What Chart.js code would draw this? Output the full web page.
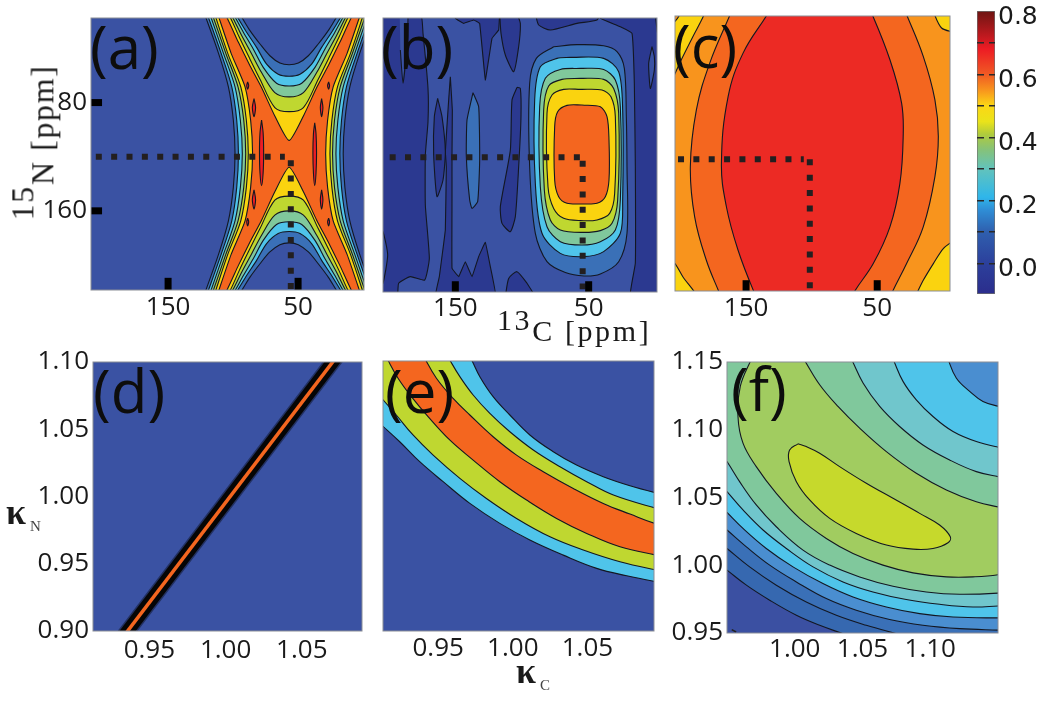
<!DOCTYPE html>
<html>
<head>
<meta charset="utf-8">
<script src="https://cdn.jsdelivr.net/npm/chart.js@4"></script>
<style>
  body { margin: 0; background: #fff; width: 1050px; height: 701px; position: relative; overflow: hidden; }
  canvas { position: absolute; }
  .tag { position: absolute; font: 500 60px/60px "Open Sans", sans-serif; color: #0d0d0d; z-index: 5; }
  .ttl { position: absolute; font-family: "Liberation Serif", serif; color: #1a1a1a; z-index: 5; white-space: nowrap; }
  .sub { font-size: 15px; font-weight: normal; color: #444; margin-left: 4px; position: relative; top: 7px; }
</style>
</head>
<body>
<div class="tag" style="left:90px;top:16px">(a)</div>
<div class="tag" style="left:381px;top:16px">(b)</div>
<div class="tag" style="left:673px;top:15px">(c)</div>
<div class="tag" style="left:93px;top:360px">(d)</div>
<div class="tag" style="left:385px;top:360px">(e)</div>
<div class="tag" style="left:731px;top:358px">(f)</div>
<div class="ttl" style="left:-35px;top:124px;font-size:32px;letter-spacing:1.6px;transform:rotate(-90deg);transform-origin:center"><span style="position:relative;top:-20px">15</span>N [ppm]</div>
<div class="ttl" style="left:497px;top:314px;font-size:30px;letter-spacing:2.6px"><span style="position:relative;top:-11px">13</span>C [ppm]</div>
<div class="ttl" style="left:6px;top:491px;font-size:36px;font-weight:bold">κ<span class="sub">N</span></div>
<div class="ttl" style="left:516px;top:650px;font-size:36px;font-weight:bold">κ<span class="sub">C</span></div>
<script>
// panel (a) contours, [13C ppm, 15N ppm]
const aBlue = [[131,-10],[124,9],[111.2,43.6],[103.6,68.4],[99.8,93.1],[98.5,117.9],[99.8,142.7],[103.6,167.4],[111.2,192.2],[124,226.8],[131,246],
  [99,226.8],[93.4,218.9],[87,209],[79.3,199.1],[71.7,190.4],[64,185],[56.9,183.7],[49.8,185],[42.1,190.4],[34.5,199.1],[26.8,209],[20.4,218.9],[14.8,226.8],
  [-17.2,246],[-10.2,226.8],[2.6,192.2],[10.2,167.4],[14,142.7],[15.3,117.9],[14,93.1],[10.2,68.4],[2.6,43.6],[-10.2,9],[-17.2,-10],
  [14.8,9],[20.4,16.9],[26.8,26.8],[34.5,36.7],[42.1,45.4],[49.8,50.8],[56.9,52.1],[64,50.8],[71.7,45.4],[79.3,36.7],[87,26.8],[93.4,16.9],[99,9]];
const aCyan = [[129,-10],[122,9],[109.2,43.6],[101,68.4],[97.2,93.1],[95.9,117.9],[97.2,142.7],[101,167.4],[109.2,192.2],[122,226.8],[129,246],
  [102.3,226.8],[96.7,218.9],[89.6,207.8],[81.9,196.6],[74.2,184.2],[65.3,176.8],[56.9,175.3],[48.5,176.8],[39.6,184.2],[31.9,196.6],[24.2,207.8],[17.1,218.9],[11.5,226.8],
  [-15.2,246],[-8.2,226.8],[4.6,192.2],[12.8,167.4],[16.6,142.7],[17.9,117.9],[16.6,93.1],[12.8,68.4],[4.6,43.6],[-8.2,9],[-15.2,-10],
  [11.5,9],[17.1,16.9],[24.2,28],[31.9,39.2],[39.6,51.6],[48.5,59],[56.9,60.5],[65.3,59],[74.2,51.6],[81.9,39.2],[89.6,28],[96.7,16.9],[102.3,9]];
const aTeal = [[126.9,-10],[119.9,9],[107.4,43.6],[98.5,68.4],[94.4,93.1],[92.9,117.9],[94.4,142.7],[98.5,167.4],[107.4,192.2],[119.9,226.8],[126.9,246],
  [104.1,226.8],[98.5,218.9],[92.1,207.8],[84.5,195.4],[76.8,181.8],[66.6,170.1],[56.9,168.1],[47.2,170.1],[37,181.8],[29.3,195.4],[21.7,207.8],[15.3,218.9],[9.7,226.8],
  [-13.1,246],[-6.1,226.8],[6.4,192.2],[15.3,167.4],[19.4,142.7],[20.9,117.9],[19.4,93.1],[15.3,68.4],[6.4,43.6],[-6.1,9],[-13.1,-10],
  [9.7,9],[15.3,16.9],[21.7,28],[29.3,40.4],[37,54],[47.2,65.7],[56.9,67.7],[66.6,65.7],[76.8,54],[84.5,40.4],[92.1,28],[98.5,16.9],[104.1,9]];
const aLime = [[125.1,-10],[118.1,9],[105.6,43.6],[96.2,68.4],[91.8,93.1],[90.3,117.9],[91.8,142.7],[96.2,167.4],[105.6,192.2],[118.1,226.8],[125.1,246],
  [106.1,226.8],[100.5,218.9],[93.4,205.3],[85.7,191.7],[78.1,178],[67.9,163.2],[56.9,160],[45.9,163.2],[35.7,178],[28.1,191.7],[20.4,205.3],[13.3,218.9],[7.7,226.8],
  [-11.3,246],[-4.3,226.8],[8.2,192.2],[17.6,167.4],[22,142.7],[23.5,117.9],[22,93.1],[17.6,68.4],[8.2,43.6],[-4.3,9],[-11.3,-10],
  [7.7,9],[13.3,16.9],[20.4,30.5],[28.1,44.1],[35.7,57.8],[45.9,72.6],[56.9,75.8],[67.9,72.6],[78.1,57.8],[85.7,44.1],[93.4,30.5],[100.5,16.9],[106.1,9]];
const aYellow = [[123.1,-10],[116.1,9],[104.1,43.6],[94.1,68.4],[89.8,93.1],[88.3,117.9],[89.8,142.7],[94.1,167.4],[104.1,192.2],[116.1,226.8],[123.1,246],
  [107.9,226.8],[102.3,218.9],[95.2,204],[87,187.9],[79.3,173.1],[67.9,152.1],[56.9,149.1],[45.9,152.1],[34.5,173.1],[26.8,187.9],[18.6,204],[11.5,218.9],[5.9,226.8],
  [-9.3,246],[-2.3,226.8],[9.7,192.2],[19.7,167.4],[24,142.7],[25.5,117.9],[24,93.1],[19.7,68.4],[9.7,43.6],[-2.3,9],[-9.3,-10],
  [5.9,9],[11.5,16.9],[18.6,31.8],[26.8,47.9],[34.5,62.7],[45.9,83.7],[56.9,86.7],[67.9,83.7],[79.3,62.7],[87,47.9],[95.2,31.8],[102.3,16.9],[107.9,9]];
const aOrange = [[120.8,-10],[113.8,9],[101.5,43.6],[90.8,68.4],[86.5,93.1],[85,117.9],[86.5,142.7],[90.8,167.4],[101.5,192.2],[113.8,226.8],[120.8,246],
  [110.5,226.8],[104.9,218.9],[95.9,200.3],[87,183],[78.1,166.9],[67.9,145.9],[56.9,127.8],[45.9,145.9],[35.7,166.9],[26.8,183],[17.9,200.3],[8.9,218.9],[3.3,226.8],
  [-7,246],[0,226.8],[12.3,192.2],[23,167.4],[27.3,142.7],[28.8,117.9],[27.3,93.1],[23,68.4],[12.3,43.6],[0,9],[-7,-10],
  [3.3,9],[8.9,16.9],[17.9,35.5],[26.8,52.8],[35.7,68.9],[45.9,89.9],[56.9,108],[67.9,89.9],[78.1,68.9],[87,52.8],[95.9,35.5],[104.9,16.9],[110.5,9]];
const aRedIslands = [
  [[78.1,92.9],[76.9,102.3],[76.5,117.1],[76.9,132],[78.1,141.4],[79.3,132],[79.7,117.1],[79.3,102.3],[78.1,92.9]],
  [[37.2,94.9],[36.2,103],[35.8,117.1],[36.2,132],[37.2,141.4],[38.2,132],[38.6,117.1],[38.2,103],[37.2,94.9]],
  [[83.9,77],[82.7,83.7],[83.9,90.4],[85.2,83.7],[83.9,77]],
  [[83.9,144.4],[82.7,151.8],[83.9,158.7],[85.2,151.8],[83.9,144.4]],
  [[31.9,77],[30.9,83.7],[31.9,90.4],[32.9,83.7],[31.9,77]],
  [[31.9,144.4],[30.9,151.8],[31.9,158.7],[32.9,151.8],[31.9,144.4]],
  [[88.8,64.7],[88,67.4],[88.8,70.1],[89.5,67.4],[88.8,64.7]],
  [[88.8,165.4],[88,168.1],[88.8,171.1],[89.5,168.1],[88.8,165.4]],
  [[26.5,64.7],[25.8,67.4],[26.5,70.1],[27.3,67.4],[26.5,64.7]],
  [[26.5,165.4],[25.8,168.1],[26.5,171.1],[27.3,168.1],[26.5,165.4]]
];
const aDotH = [[205.6,120.1],[60.2,120.1]];
const aDotV = [[55.6,122.6],[55.6,217.9]];

// panel (b) contours
const bLeftDark = [[206.25,13.2],[176.25,13.2],[174.25,28],[170.5,68.9],[170.5,93.6],[172.5,118.4],[172.5,155.5],[169.5,195.1],[173,211.2],[183.75,208.7],[192.5,213.6],[193.75,223.5],[206.25,223.5]];
const bLeftPatch = [[206.25,175.3],[204.25,175.3],[200.75,192.6],[204.25,213.6],[206.25,213.6]];
const bLeftDrop = [[191.75,13.2],[185.75,13.2],[186.75,40.4],[189.25,65.1],[191.25,40.4]];
const bStrip = [[153.75,60.2],[152.25,85],[152.5,117.1],[152.5,151.8],[152.5,202.5],[147.5,208.7],[142.5,197.6],[137.5,208.7],[132.5,193.8],[127.5,183.2],[123.75,201.3],[119.75,223.5],[165,223.5],[162,208.7],[157.5,174],[156.75,127],[157.5,115.9],[155,77.5],[153.75,60.2]];
const bEllipse = [[163.25,76.3],[165.75,89.9],[166.25,118.4],[163.75,149.3],[159.25,136.9],[157.5,115.9],[160,89.9],[163.25,76.3]];
const bTopA = [[150,13.2],[150,16.9],[143.75,20.6],[136.25,18.1],[131.75,20.6],[127.5,62.7],[122.5,31.7],[117.5,25.5],[116.75,13.2]];
const bTopB = [[116.75,13.2],[115.75,28],[112.5,44.1],[106.25,56.5],[102.5,37.9],[101.25,20.6],[103.75,13.2]];
const bBlobC = [[103.75,68.1],[107.5,77.5],[108.75,114.7],[116.25,156.7],[115,169.1],[108.75,175.3],[105,164.1],[102.5,127],[100.75,89.9],[101.25,68.9],[103.75,68.1]];
const bBlobD = [[112.5,223.5],[110,210],[103.75,205],[96.25,213.6],[90,223.5]];
const bBlueDrop = [[136.75,72.1],[141.25,92.4],[141.75,119.6],[139.25,151.8],[137.5,158],[133.25,153],[131.75,122.1],[132.5,82.5],[136.75,72.1]];
const bTopE = [[90,13.2],[87.5,21.8],[78.75,25.5],[58.75,20.6],[43.75,18.1],[41.25,13.2]];
const bRightDark = [[42.5,13.2],[41.25,16.9],[26.25,23.1],[17.5,28],[15.75,65.1],[15,127],[15,198.8],[18.75,223.5],[-6.25,223.5],[-6.25,13.2]];
const bRightDrop = [[2.5,37.9],[5,50.3],[3.75,68.9],[0.75,55.2],[0.75,45.3],[2.5,37.9]];
const bRightCorner = [[0.75,13.2],[-0.25,16.6],[-1.75,28],[-6.25,28],[-6.25,13.2]];
const bBlue = [[76.25,37.9],[58.75,36.4],[38.75,37.2],[28.75,41.6],[23.25,54],[21.75,89.9],[21.25,127],[21.25,176.5],[27.5,197.6],[41.25,206.7],[53.5,208.2],[67.5,205.7],[81.25,197.6],[90,176.5],[94.25,127],[94.25,65.1],[89.25,46.6],[76.25,37.9]];
const bCyan = [[63.75,45.8],[38.75,46.6],[27.5,56.5],[24.5,85],[24.5,151.8],[26.25,176.5],[38.75,190.1],[53.75,193.8],[71.25,191.4],[85,176.5],[90,139.4],[90.5,77.5],[86.25,52.8],[73.75,46.6],[63.75,45.8]];
const bTeal = [[56.25,54],[38.75,54.8],[30,62.7],[26.25,82.5],[26.25,151.8],[30,174],[41.25,182.7],[55,185.2],[71.25,182.7],[81.25,171.6],[86.25,141.9],[86.75,82.5],[82.5,61.4],[71.25,54.8],[56.25,54]];
const bLime = [[56.25,61.4],[38.75,62.2],[31.25,68.9],[27.5,87.4],[28.25,151.8],[32.5,169.1],[41.25,174.5],[55,175.8],[71.25,174],[78.75,166.6],[83.25,144.3],[83.75,85],[80,67.1],[70,62.2],[56.25,61.4]];
const bYellow = [[56.25,69.6],[40,70.1],[33.25,75.1],[30,89.9],[30.5,146.8],[34.25,161.7],[43.75,166.6],[56.25,167.1],[68.75,165.4],[76.25,158],[80.5,141.9],[81.25,87.4],[77.5,73.8],[68.75,69.6],[56.25,69.6]];
const bOrange = [[55,81.2],[41.25,82.5],[36.25,89.9],[34.75,107.2],[34.75,136.9],[37.5,149.3],[43.75,154.2],[55,154.7],[66.25,154.2],[72.5,149.3],[75.5,136.9],[75.5,97.3],[73.25,86.2],[66.25,81.5],[55,81.2]];
const bDotH = [[199.25,120.1],[56.25,120.1]];
const bDotV = [[54.5,122.6],[54.5,218.1]];

// panel (c) contours
const cYellowTL = [[176,-5],[181.5,13.2],[190.5,30.5],[199.4,47.8],[205.7,61.4],[212,75],[225,75],[225,5],[208.3,21.8],[204.2,19.4],[200.1,13.2],[195,-5]];
const cYellowTR = [[12,-5],[6.7,13.2],[0.9,24.3],[-8,27.3],[-20,30],[-20,-5]];
const cYellowBL = [[225,188],[208.3,196.3],[204.2,198.8],[198.1,208.7],[188.4,221.1],[180,235],[225,235]];
const cYellowBR = [[28,235],[20,221.1],[14.9,211.2],[7.2,198.8],[-0.4,187.7],[-8,182],[-20,175],[-20,235]];
const cOrange = [[150,-15],[161.7,13.2],[177.7,50.3],[187.9,85],[192.5,127],[189.2,164.2],[180.3,196.3],[170.1,221.1],[160,245],[50,245],[39.1,221.1],[27.6,198.8],[14.9,171.6],[6,134.4],[3.4,104.7],[6,77.5],[14.9,45.3],[28.1,13.2],[40,-15]];
const cRed = [[117,-15],[133.2,13.2],[152.3,42.9],[163.7,75.1],[168.8,124.5],[165,156.7],[156.1,188.9],[143.4,221.1],[132,245],[80,245],[68.3,221.1],[53,198.8],[40.3,171.6],[32.7,139.4],[30.2,104.7],[31.4,80],[40.3,47.8],[54.3,13.2],[68,-15]];
const cDotH = [[201.9,121.6],[106,121.6]];
const cDotV = [[101.4,121.6],[101.4,217.8]];

// panel (d) ridge
const dRidge = [[0.929,0.89],[1.077,1.11]];

// panel (e) contour curves
const eU1 = [[0.96,1.125],[0.9718,1.102],[0.9779,1.0884],[0.9868,1.0736],[0.998,1.06],[1.0114,1.0452],[1.0271,1.0328],[1.0427,1.0229],[1.0606,1.0143],[1.0785,1.0076],[1.0964,1.0022],[1.12,0.996]];
const eU2 = [[0.945,1.125],[0.9571,1.102],[0.9645,1.0884],[0.9734,1.0748],[0.9846,1.0612],[0.998,1.0476],[1.0137,1.0341],[1.0316,1.0217],[1.0495,1.0106],[1.0674,1.0007],[1.0964,0.9908],[1.12,0.984]];
const eU3 = [[0.93,1.125],[0.941,1.102],[0.9488,1.0872],[0.96,1.0723],[0.9712,1.06],[0.9868,1.0439],[1.0025,1.0303],[1.0204,1.018],[1.0405,1.0056],[1.0606,0.9945],[1.0785,0.9866],[1.0964,0.9792],[1.12,0.972]];
const eL3 = [[0.905,1.125],[0.9157,1.102],[0.9231,1.0872],[0.932,1.0736],[0.9432,1.0588],[0.9577,1.0415],[0.9734,1.0266],[0.9913,1.0106],[1.0092,0.997],[1.0293,0.9834],[1.0495,0.9723],[1.0718,0.9624],[1.0964,0.9562],[1.12,0.951]];
const eL2 = [[0.895,1.095],[0.9108,1.0741],[0.9219,1.06],[0.9331,1.0452],[0.9466,1.0303],[0.9645,1.0131],[0.9823,0.9982],[1.0025,0.9834],[1.0249,0.9698],[1.0472,0.96],[1.0718,0.9513],[1.0964,0.9451],[1.12,0.94]];
const eL1 = [[0.895,1.07],[0.9108,1.0538],[0.9242,1.0402],[0.9376,1.0254],[0.9533,1.0106],[0.9712,0.9945],[0.9913,0.9797],[1.0114,0.9674],[1.0338,0.9562],[1.0562,0.9464],[1.0763,0.9409],[1.0964,0.9365],[1.12,0.932]];

// panel (f) contour curves
const fT1 = [[1.105,1.175],[1.1131,1.1522],[1.1192,1.1382],[1.1291,1.1283],[1.1389,1.1209],[1.1525,1.1167],[1.175,1.11]];
const fT2 = [[1.062,1.175],[1.0725,1.1522],[1.0799,1.1357],[1.0897,1.1221],[1.102,1.1098],[1.1168,1.0987],[1.134,1.0913],[1.1525,1.0866],[1.175,1.082]];
const fT3 = [[1.03,1.175],[1.0418,1.1522],[1.0504,1.1345],[1.0627,1.1172],[1.0774,1.1024],[1.0946,1.0888],[1.1143,1.0777],[1.134,1.0691],[1.1525,1.0649],[1.175,1.06]];
const fT4 = [[0.992,1.175],[1.0066,1.1522],[1.0184,1.1332],[1.0319,1.1172],[1.0479,1.1012],[1.0676,1.0839],[1.0897,1.0679],[1.1119,1.0556],[1.134,1.0469],[1.1525,1.0425],[1.175,1.037]];
const fB0 = [[0.978,1.175],[0.968,1.1522],[0.9598,1.132],[0.9581,1.1098],[0.9618,1.0901],[0.9716,1.0728],[0.9864,1.0531],[1.0036,1.0346],[1.0233,1.0198],[1.043,1.0087],[1.0651,1.0001],[1.0873,0.9944],[1.1119,0.9914],[1.1315,0.9914],[1.1525,0.9934],[1.175,0.999]];
const fB1 = [[0.93,1.105],[0.947,1.0802],[0.95,1.0765],[0.9593,1.0617],[0.9716,1.0445],[0.9864,1.0284],[1.0061,1.0112],[1.0258,1.0001],[1.0479,0.9914],[1.0725,0.9845],[1.0971,0.9803],[1.1217,0.9786],[1.1525,0.9796],[1.175,0.982]];
const fB2 = [[0.93,1.078],[0.947,1.0575],[0.95,1.0543],[0.9618,1.0408],[0.9766,1.026],[0.9938,1.0124],[1.0135,0.9988],[1.0356,0.9877],[1.0577,0.9803],[1.0823,0.9747],[1.1069,0.9712],[1.1315,0.9692],[1.1525,0.97],[1.175,0.97]];
const fB3 = [[0.93,1.058],[0.947,1.042],[0.95,1.039],[0.9618,1.0272],[0.979,1.0124],[0.9987,0.9988],[1.0208,0.9865],[1.043,0.9766],[1.0676,0.9692],[1.0922,0.9643],[1.1168,0.9618],[1.1525,0.9611],[1.175,0.961]];
const fB4 = [[0.93,1.043],[0.947,1.0284],[0.95,1.026],[0.9643,1.0136],[0.9815,1.0001],[1.0012,0.9877],[1.0233,0.9754],[1.0454,0.9668],[1.07,0.9599],[1.0946,0.9557],[1.1217,0.9532],[1.1525,0.952],[1.175,0.951]];
const fB5 = [[0.93,1.029],[0.947,1.0149],[0.95,1.0124],[0.9667,0.9988],[0.9864,0.9853],[1.0085,0.9729],[1.0307,0.9631],[1.0528,0.9557],[1.075,0.9495],[1.0971,0.9434],[1.12,0.938]];
const fB6 = [[0.93,1.012],[0.947,0.9988],[0.95,0.9964],[0.9643,0.9853],[0.9815,0.9742],[1.0012,0.9631],[1.0184,0.9557],[1.0356,0.9495],[1.0528,0.9434],[1.075,0.937]];
const fIsland = [[1.0024,1.0896],[0.9962,1.0851],[0.9958,1.0765],[1.0012,1.0617],[1.011,1.0482],[1.0258,1.0346],[1.0454,1.0235],[1.0676,1.0149],[1.0873,1.0119],[1.102,1.0124],[1.1131,1.0166],[1.1148,1.021],[1.1069,1.0297],[1.0922,1.0383],[1.0725,1.0494],[1.0528,1.0605],[1.0331,1.0728],[1.0184,1.0827],[1.0085,1.0876],[1.0024,1.0896]];
const fSpecks = [[0.9535,0.9525],[0.9712,0.9429]];
const fCorners = [[1.22, 0.9], [1.22, 1.22], [0.9, 1.22], [0.9, 0.95]];

// axis ticks
const ppmTicksX = [150, 50];
const ppmTicksY = [80, 160];
const dTicksX = [0.95, 1.0, 1.05];
const dTicksY = [0.9, 0.95, 1.0, 1.05, 1.1];
const fTicksX = [1.0, 1.05, 1.1];
const fTicksY = [0.95, 1.0, 1.05, 1.1, 1.15];

// colour bar
const barTicks = [0, 0.1, 0.2, 0.3, 0.4, 0.5, 0.6, 0.7, 0.8];
const barStops = [-0.0975, 0, 0.1, 0.17, 0.21, 0.3, 0.36, 0.41, 0.45, 0.5, 0.55, 0.6, 0.68, 0.72, 0.801];
const barColors = ['#2b2d8c', '#2c409c', '#2f5fae', '#2f8ed6', '#2fb6ea', '#62c3bc', '#85c27a', '#b0cb3c', '#eae31a', '#fbd715', '#f8941d', '#f05a24', '#ed1c24', '#c1191f', '#6e1512'];

// palette
const NAVY = '#3a52a3', DARK = '#2b3990', BLUE = '#3a70b7', BLUE4 = '#4a8ed0', CYAN = '#4fc4ea', TEAL = '#70c6cc';
const GREEN = '#80c89c', OLIVE = '#a1cc60', LIME = '#bfd730', YELLOW = '#fad30f', ORANGE = '#f4661f', LIGHTOR = '#f8941d', RED = '#ec2a24', BRIGHT = '#ed1c24';
const INK = '#231f20', EDGE = '#131722';
const LABEL_FONT = { family: '"Open Sans", sans-serif', size: 26 };

const pts = arr => arr.map(p => ({ x: p[0], y: p[1] }));
const rev = arr => arr.slice().reverse();

const layer = (arr, color, tension = 0.3) => ({
  data: pts(arr), showLine: true, fill: 'shape', backgroundColor: color, borderColor: EDGE,
  borderWidth: 1.1, tension, pointRadius: 0, clip: 0, capBezierPoints: false, borderJoinStyle: 'round'
});
const stroke = (arr, color, width, dash) => ({
  data: pts(arr), showLine: true, fill: false, borderColor: color, borderWidth: width,
  borderDash: dash || [], tension: 0, pointRadius: 0, clip: 0, borderCapStyle: 'butt'
});

// m = [left, right, top, bottom margins around the plot, x label padding]
function panel(id, box, m, xr, yr, xTicks, yTicks, reverse, fmt, bg, datasets) {
  const cv = document.createElement('canvas');
  cv.id = id;
  const w = box[2] - box[0] + m[0] + m[1], h = box[3] - box[1] + m[2] + m[3];
  cv.width = w; cv.height = h;
  cv.style.left = (box[0] - m[0]) + 'px';
  cv.style.top = (box[1] - m[2]) + 'px';
  document.body.appendChild(cv);
  const axis = (r, ticks, rv, isX) => ({
    type: 'linear', min: r[0], max: r[1], reverse: rv,
    afterBuildTicks: s => { s.ticks = ticks.map(v => ({ value: v })); },
    afterFit: s => { if (isX) s.height = m[3]; else s.width = m[0]; },
    grid: { display: false, drawTicks: false },
    border: { display: false },
    ticks: { autoSkip: false, maxRotation: 0, color: '#1a1a1a', font: LABEL_FONT, padding: isX ? m[4] : 4, callback: fmt }
  });
  return new Chart(cv, {
    type: 'scatter',
    data: { datasets: rev(datasets) },
    options: {
      responsive: false, animation: false, events: [],
      layout: { padding: { top: m[2], right: m[1], left: 0, bottom: 0 } },
      plugins: { legend: { display: false }, tooltip: { enabled: false } },
      scales: { x: axis(xr, xTicks, reverse, true), y: axis(yr, yTicks, reverse, false) }
    },
    plugins: [{
      id: 'frame',
      beforeDatasetsDraw(c) {
        const a = c.chartArea;
        c.ctx.fillStyle = bg;
        c.ctx.fillRect(a.left, a.top, a.width, a.height);
      },
      afterDatasetsDraw(c) {
        const a = c.chartArea;
        c.ctx.strokeStyle = '#8a8d96';
        c.ctx.lineWidth = 1;
        c.ctx.strokeRect(a.left, a.top, a.width, a.height);
      }
    }]
  });
}

const ppmFmt = v => String(v);
const kFmt = v => v.toFixed(2);
const DOTS = [6, 9.35];

// tick marks of the ppm panels, inside the frame
const marksX = (xs, yEdge, len) => xs.map(x => stroke([[x, yEdge], [x, yEdge - len]], '#000', 7));
const marksY = (ys, xEdge, len) => ys.map(y => stroke([[xEdge, y], [xEdge - len, y]], '#000', 7));

panel('a', [91, 18, 364, 290], [90, 30, 20, 40, 2], [-0.7, 209.3], [17.5, 218.5], ppmTicksX, ppmTicksY, true, ppmFmt, NAVY, [
  layer(aBlue, BLUE), layer(aCyan, CYAN), layer(aTeal, GREEN), layer(aLime, LIME), layer(aYellow, YELLOW), layer(aOrange, ORANGE, 0.2),
  ...aRedIslands.map(r => layer(r, BRIGHT)),
  stroke(aDotH, INK, 6, DOTS), stroke(aDotV, INK, 6, DOTS),
  ...marksX(ppmTicksX, 218.5, 9), ...marksY(ppmTicksY, 209.3, 8.5)
]);

panel('b', [383, 18, 657, 292], [10, 30, 20, 40, 1], [-1.25, 204.25], [16.6, 220.1], ppmTicksX, [], true, ppmFmt, NAVY, [
  layer(bLeftDark, DARK, 0.15), layer(bLeftPatch, NAVY, 0.2), layer(bLeftDrop, NAVY, 0.2),
  layer(bStrip, DARK, 0.05), layer(bEllipse, DARK, 0.2),
  layer(bTopA, DARK, 0.05), layer(bTopB, DARK, 0.2), layer(bBlobC, DARK, 0.2), layer(bBlobD, DARK, 0.2),
  layer(bBlueDrop, BLUE, 0.15), layer(bTopE, DARK, 0.2), layer(bRightDark, DARK, 0.1), layer(bRightDrop, NAVY, 0.2), layer(bRightCorner, NAVY, 0.1),
  layer(bBlue, BLUE), layer(bCyan, CYAN), layer(bTeal, GREEN), layer(bLime, LIME), layer(bYellow, YELLOW), layer(bOrange, ORANGE),
  stroke(bDotH, INK, 6, DOTS), stroke(bDotV, INK, 6, DOTS),
  ...marksX(ppmTicksX, 220.1, 8)
]);

panel('c', [675, 16, 950, 291], [10, 30, 20, 40, 2], [-5.5, 204.2], [15.4, 219.1], ppmTicksX, [], true, ppmFmt, LIGHTOR, [
  layer(cYellowTL, YELLOW), layer(cYellowTR, YELLOW), layer(cYellowBL, YELLOW), layer(cYellowBR, YELLOW),
  layer(cOrange, ORANGE, 0.4), layer(cRed, RED, 0.4),
  stroke(cDotH, INK, 6, DOTS), stroke(cDotV, INK, 6, DOTS),
  ...marksX(ppmTicksX, 219.1, 8)
]);

panel('d', [93, 362, 362, 631], [80, 30, 20, 40, 4], [0.913, 1.0895], [0.9, 1.1], dTicksX, dTicksY, false, kFmt, NAVY, [
  stroke(dRidge, 'rgba(0,0,0,0.4)', 16), stroke(dRidge, '#050505', 13), stroke(dRidge, ORANGE, 3.5)
]);

panel('e', [383, 361, 654, 631], [10, 30, 20, 40, 2], [0.913, 1.0946], [0.9, 1.1], dTicksX, [], false, kFmt, NAVY, [
  layer([...eU1, ...rev(eL1), [0.86, 1.16]], CYAN, 0.4),
  layer([...eU2, ...rev(eL2), [0.86, 1.16]], LIME, 0.4),
  layer([...eU3, ...rev(eL3)], ORANGE, 0.4)
]);

panel('f', [727, 362, 998, 633], [70, 30, 20, 40, 1], [0.95, 1.15], [0.95, 1.15], fTicksX, fTicksY, false, kFmt, '#3b50a2', [
  layer([...fB6, ...fCorners], '#3668b0', 0.4),
  layer([...fB5, ...fCorners], '#3a70b7', 0.4),
  layer([...fB4, ...fCorners], BLUE4, 0.4),
  layer([...fB3, ...rev(fT1), ...fCorners.slice(2)], CYAN, 0.4),
  layer([...fB2, ...rev(fT2), ...fCorners.slice(2)], TEAL, 0.4),
  layer([...fB1, ...rev(fT3), ...fCorners.slice(2)], GREEN, 0.4),
  layer([...fB0, ...rev(fT4)], OLIVE, 0.4),
  layer(fIsland, '#c6d92c', 0.4),
  stroke(fSpecks, '#222', 1.5, [5, 12])
]);

// colour bar, one floating bar with the gradient
const barCv = document.createElement('canvas');
barCv.id = 'bar'; barCv.width = 73; barCv.height = 323;
barCv.style.left = '977px'; barCv.style.top = '-9px';
document.body.appendChild(barCv);
const barLow = barStops[0], barHigh = barStops[barStops.length - 1];
const barChart = new Chart(barCv, {
  type: 'bar',
  data: {
    labels: [''],
    datasets: [{
      data: [[barLow, barHigh]],
      barPercentage: 1, categoryPercentage: 1,
      borderColor: '#6f6f6f', borderWidth: 1, borderSkipped: false,
      backgroundColor: '#888'
    }]
  },
  options: {
    responsive: false, animation: false, events: [],
    layout: { padding: { top: 20, bottom: 20, left: 0, right: 0 } },
    plugins: { legend: { display: false }, tooltip: { enabled: false } },
    scales: {
      x: { display: false },
      y: {
        position: 'right', min: barLow, max: barHigh,
        afterBuildTicks: s => { s.ticks = barTicks.map(v => ({ value: v })); },
        afterFit: s => { s.width = 55; },
        grid: { z: 1, drawTicks: false, lineWidth: 1.4, color: c => (c.tick && c.tick.value > 0.75 ? 'rgba(0,0,0,0)' : '#2a2a2a') },
        border: { display: false, dash: [7, 5] },
        ticks: {
          autoSkip: false, color: '#1a1a1a', padding: 3, labelOffset: 6,
          font: { family: '"DejaVu Sans", sans-serif', size: 25 },
          callback: v => (Math.round(v * 10) % 2 === 0 ? v.toFixed(1) : '')
        }
      }
    }
  }
});
// the gradient needs the scale's pixels, so it goes in once the chart has laid out
const barY = barChart.scales.y;
const barGrad = barChart.ctx.createLinearGradient(0, barY.getPixelForValue(barLow), 0, barY.getPixelForValue(barHigh));
barStops.forEach((v, i) => barGrad.addColorStop((v - barLow) / (barHigh - barLow), barColors[i]));
barChart.data.datasets[0].backgroundColor = barGrad;
barChart.update();
</script>
</body>
</html>
